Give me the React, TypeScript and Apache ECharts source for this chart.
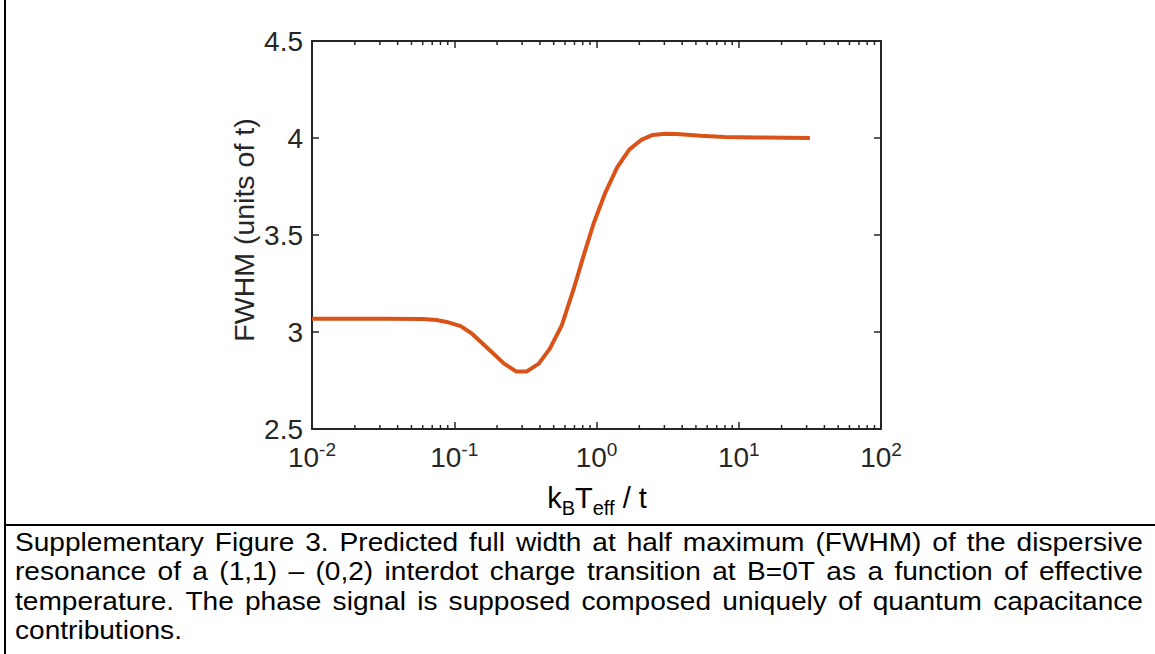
import React, { useEffect, useRef } from "react";
import * as echarts from "echarts";

// kB*Teff / t (x) and FWHM in units of t (y)
const kT = [0.01, 0.0316, 0.06, 0.075, 0.0885, 0.111, 0.134, 0.168, 0.224, 0.272, 0.324, 0.393, 0.47, 0.57, 0.692, 0.813, 0.953, 1.156, 1.4, 1.7, 2.06, 2.49, 3.03, 3.67, 5.4, 7.94, 13.3, 31.6];
const fwhm = [3.068, 3.068, 3.067, 3.062, 3.052, 3.03, 2.99, 2.923, 2.837, 2.797, 2.797, 2.837, 2.914, 3.034, 3.223, 3.395, 3.558, 3.72, 3.85, 3.94, 3.99, 4.016, 4.022, 4.02, 4.012, 4.005, 4.003, 4.0];

const xDecades = [-2, -1, 0, 1, 2];
const yMin = 2.5;
const yMax = 4.5;
const yStep = 0.5;

const yTitle = "FWHM (units of t)";
const captionLines = [
  "Supplementary Figure 3. Predicted full width at half maximum (FWHM) of the dispersive",
  "resonance of a (1,1) – (0,2) interdot charge transition at B=0T as a function of effective",
  "temperature. The phase signal is supposed composed uniquely of quantum capacitance",
  "contributions.",
];

const FONT = '"Liberation Sans", Arial, Helvetica, sans-serif';
const AX = "#262626";
const LINE = "#D95319";

export default function App() {
  const ref = useRef<HTMLDivElement>(null);
  useEffect(() => {
    document.body.style.margin = "0";
    const chart = echarts.init(ref.current!, undefined, { renderer: "svg" });

    const minorTicks: number[][] = [];
    for (let d = xDecades[0]; d < xDecades[xDecades.length - 1]; d++) {
      for (let m = 2; m <= 9; m++) minorTicks.push([m * Math.pow(10, d), yMin]);
    }

    // caption, justified
    const capSize = 26;
    const capScale = 1.08;
    const capLeft = 15;
    const capRight = 1143;
    const ctx = document.createElement("canvas").getContext("2d")!;
    ctx.font = `${capSize}px ${FONT}`;
    const capEls: any[] = [];
    captionLines.forEach((line, li) => {
      const words = line.split(" ");
      const widths = words.map((w) => ctx.measureText(w).width * capScale);
      const total = widths.reduce((a, b) => a + b, 0);
      const last = li === captionLines.length - 1;
      const gap = last || words.length < 2
        ? ctx.measureText(" ").width * capScale
        : (capRight - capLeft - total) / (words.length - 1);
      let x = capLeft;
      const y = 542 + li * 29.5;
      words.forEach((w, i) => {
        capEls.push({
          type: "text",
          x,
          y,
          scaleX: capScale,
          silent: true,
          style: { text: w, font: `${capSize}px ${FONT}`, fill: "#000", align: "left", verticalAlign: "middle" },
        });
        x += widths[i] + gap;
      });
    });

    const tickLabelRich = {
      b: { fontSize: 28, fontFamily: FONT, color: AX, verticalAlign: "bottom", lineHeight: 32 },
      s: { fontSize: 19, fontFamily: FONT, color: AX, verticalAlign: "bottom", lineHeight: 32, padding: [0, 0, 12, 0] },
    };

    chart.setOption({
      animation: false,
      backgroundColor: "#fff",
      grid: { left: 312, right: 274, top: 41, bottom: 225 },
      xAxis: [
        {
          type: "log",
          logBase: 10,
          min: Math.pow(10, xDecades[0]),
          max: Math.pow(10, xDecades[xDecades.length - 1]),
          position: "bottom",
          axisLine: { lineStyle: { color: AX, width: 2 } },
          axisTick: { inside: true, length: 7, lineStyle: { color: AX, width: 1.5 } },
          axisLabel: {
            margin: 10,
            formatter: (v: number) => `{b|10}{s|${Math.round(Math.log10(v))}}`,
            rich: tickLabelRich,
          },
          splitLine: { show: false },
        },
        {
          type: "log",
          logBase: 10,
          min: Math.pow(10, xDecades[0]),
          max: Math.pow(10, xDecades[xDecades.length - 1]),
          position: "top",
          axisLine: { lineStyle: { color: AX, width: 2 } },
          axisTick: { inside: true, length: 7, lineStyle: { color: AX, width: 1.5 } },
          axisLabel: { show: false },
          splitLine: { show: false },
        },
      ],
      yAxis: [
        {
          type: "value",
          min: yMin,
          max: yMax,
          interval: yStep,
          position: "left",
          axisLine: { show: true, lineStyle: { color: AX, width: 2 } },
          axisTick: { show: true, inside: true, length: 7, lineStyle: { color: AX, width: 1.5 } },
          axisLabel: { margin: 9, fontSize: 28, fontFamily: FONT, color: AX },
          splitLine: { show: false },
        },
        {
          type: "value",
          min: yMin,
          max: yMax,
          interval: yStep,
          position: "right",
          axisLine: { show: true, lineStyle: { color: AX, width: 2 } },
          axisTick: { show: true, inside: true, length: 7, lineStyle: { color: AX, width: 1.5 } },
          axisLabel: { show: false },
          splitLine: { show: false },
        },
      ],
      series: [
        {
          type: "custom",
          xAxisIndex: 0,
          yAxisIndex: 0,
          clip: false,
          silent: true,
          data: minorTicks,
          renderItem: (_p: any, api: any) => {
            const v = api.value(0);
            const b = api.coord([v, yMin]);
            const t = api.coord([v, yMax]);
            return {
              type: "group",
              children: [
                { type: "line", shape: { x1: b[0], y1: b[1], x2: b[0], y2: b[1] - 4 }, style: { stroke: AX, lineWidth: 1.5 } },
                { type: "line", shape: { x1: t[0], y1: t[1], x2: t[0], y2: t[1] + 4 }, style: { stroke: AX, lineWidth: 1.5 } },
              ],
            };
          },
        },
        {
          type: "line",
          xAxisIndex: 0,
          yAxisIndex: 0,
          data: kT.map((x, i) => [x, fwhm[i]]),
          showSymbol: false,
          smooth: false,
          lineStyle: { color: LINE, width: 4 },
        },
      ],
      graphic: [
        {
          type: "text",
          x: 244,
          y: 230,
          rotation: Math.PI / 2,
          silent: true,
          style: { text: yTitle, font: `28.5px ${FONT}`, fill: AX, align: "center", verticalAlign: "middle" },
        },
        {
          type: "text",
          x: 597,
          y: 500,
          silent: true,
          style: {
            text: "{m|k}{u|B}{m|T}{u|eff}{m| / t}",
            align: "center",
            verticalAlign: "middle",
            rich: {
              m: { fontSize: 29, fontFamily: FONT, color: AX, verticalAlign: "top", lineHeight: 34 },
              u: { fontSize: 20, fontFamily: FONT, color: AX, verticalAlign: "top", lineHeight: 34, padding: [15, 0, 0, 0] },
            },
          },
        },
        { type: "line", silent: true, shape: { x1: 5, y1: 0, x2: 5, y2: 654 }, style: { stroke: "#000", lineWidth: 2 } },
        { type: "line", silent: true, shape: { x1: 4, y1: 525, x2: 1155, y2: 525 }, style: { stroke: "#000", lineWidth: 2 } },
        ...capEls,
      ],
    });
    return () => chart.dispose();
  }, []);
  return <div ref={ref} style={{ width: 1155, height: 654 }} />;
}
